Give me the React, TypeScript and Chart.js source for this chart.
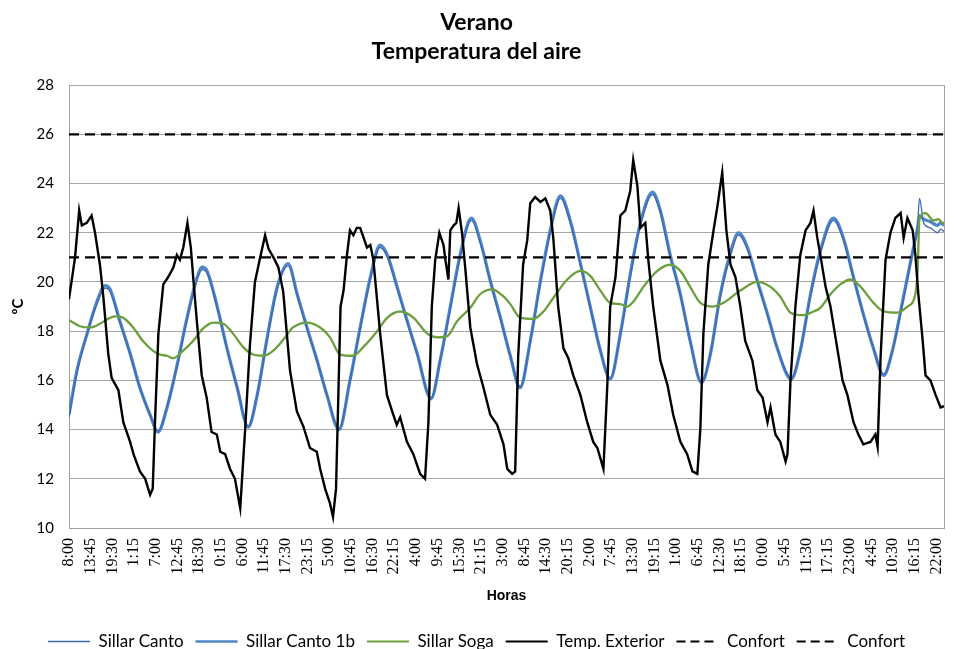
import { useEffect, useRef } from "react";
import { Chart, registerables } from "chart.js";
Chart.register(...registerables);

// hours elapsed since 8:00 of the first day
const exteriorHours = [
  0, 1.6, 2.7, 3.4, 4.7, 6.0, 6.9, 8.2, 9.1, 10.4,
  11.3, 13.1, 14.4, 16.2, 17.1, 18.8, 20.2, 21.5, 22.2, 22.8,
  23.7, 25.0, 26.3, 27.7, 28.6, 29.4, 30.3, 31.4, 32.3, 33.0,
  33.9, 35.2, 36.5, 37.8, 39.2, 40.1, 41.4, 42.7, 44.0, 45.4,
  46.7, 48.0, 49.3, 50.7, 52.0, 52.9, 54.2, 55.5, 56.8, 58.6,
  60.4, 62.2, 63.9, 65.7, 66.6, 67.9, 69.2, 70.0, 70.8, 72.0,
  72.8, 73.7, 74.5, 75.4, 76.3, 77.2, 78.1, 79.0, 79.9, 80.7,
  81.6, 82.5, 84.3, 86.0, 86.9, 87.8, 89.6, 91.3, 93.1, 94.4,
  95.3, 96.2, 97.1, 98.2, 99.3, 99.8, 100.6, 101.1, 102.0, 102.7,
  103.3, 104.2, 105.1, 106.4, 108.2, 109.9, 111.7, 113.5, 115.2, 116.2,
  117.5, 118.3, 119.1, 120.4, 121.5, 122.3, 123.6, 125.0, 126.3, 127.6,
  128.4, 129.7, 131.1, 132.4, 133.7, 135.6, 137.4, 139.0, 140.1, 141.7,
  142.7, 143.5, 144.9, 146.2, 147.5, 148.8, 149.6, 150.7, 151.5, 152.8,
  153.6, 154.9, 156.8, 158.7, 160.2, 162.1, 163.9, 165.3, 166.6, 167.4,
  168.2, 169.5, 170.9, 171.9, 173.2, 174.3, 175.4, 176.7, 178.0, 179.3,
  181.2, 182.5, 183.9, 185.2, 186.0, 187.3, 188.6, 190.0, 190.5, 191.3,
  192.6, 193.9, 195.3, 196.6, 197.4, 198.4, 199.2, 200.6, 201.9, 203.7,
  205.1, 206.4, 208.0, 209.3, 210.6, 212.5, 213.8, 214.4, 215.2, 216.5,
  217.8, 219.1, 220.5, 221.3, 222.3, 223.7, 224.4, 225.2, 226.3, 227.1,
  228.4, 229.8, 231.1, 232.0,
];
const exteriorTemp = [
  19.3, 21.0, 22.9, 22.3, 22.4, 22.7, 22.0, 20.7, 19.4, 17.1,
  16.1, 15.6, 14.3, 13.5, 13.0, 12.3, 12.0, 11.35, 11.6, 14.3,
  17.9, 19.9, 20.2, 20.6, 21.1, 20.9, 21.4, 22.4, 21.4, 20.05,
  18.4, 16.2, 15.3, 13.9, 13.8, 13.1, 13.0, 12.4, 12.0, 10.8,
  14.0, 17.5, 20.0, 21.0, 21.9, 21.35, 21.0, 20.6, 19.6, 16.4,
  14.75, 14.1, 13.25, 13.1, 12.4, 11.6, 11.0, 10.45, 11.6, 19.0,
  19.65, 21.1, 22.1, 21.9, 22.2, 22.2, 21.8, 21.4, 21.5, 20.9,
  19.4, 17.9, 15.4, 14.6, 14.2, 14.5, 13.5, 13.0, 12.2, 12.0,
  14.3, 19.0, 20.9, 22.0, 21.5, 20.9, 20.1, 22.1, 22.3, 22.4,
  23.0, 22.0, 20.5, 18.15, 16.65, 15.7, 14.6, 14.2, 13.4, 12.4,
  12.2, 12.3, 17.0, 20.7, 21.7, 23.2, 23.45, 23.25, 23.4, 22.9,
  21.8, 19.0, 17.3, 16.9, 16.2, 15.4, 14.3, 13.5, 13.25, 12.4,
  15.7, 19.0, 20.2, 22.7, 22.9, 23.7, 24.95, 23.9, 22.2, 22.4,
  20.9, 19.0, 16.8, 15.8, 14.6, 13.5, 13.0, 12.3, 12.2, 14.05,
  17.9, 20.7, 22.1, 23.05, 24.45, 22.1, 20.7, 20.2, 19.0, 17.6,
  16.8, 15.6, 15.3, 14.3, 14.9, 13.8, 13.5, 12.7, 13.0, 16.0,
  19.0, 21.1, 22.1, 22.4, 22.9, 21.8, 21.1, 19.8, 19.0, 17.3,
  16.0, 15.4, 14.3, 13.8, 13.4, 13.5, 13.8, 13.3, 17.0, 20.9,
  22.0, 22.6, 22.8, 21.8, 22.6, 22.1, 21.1, 19.5, 17.7, 16.2,
  16.0, 15.4, 14.9, 14.95,
];

const cantoHours = [
  0, 2.1, 4.8, 7.4, 9.6, 10.9, 13.5, 16.2, 18.8, 21.5,
  23.6, 26.0, 28.7, 31.3, 34.0, 35.3, 36.6, 39.3, 41.9, 44.6,
  47.5, 49.9, 52.5, 55.2, 58.1, 60.5, 63.1, 65.8, 68.4, 71.6,
  74.5, 77.2, 79.9, 82.5, 84.4, 87.0, 89.7, 92.3, 96.0, 98.4,
  101.1, 103.7, 106.7, 109.0, 111.7, 114.3, 117.0, 119.6, 122.3, 125.0,
  127.6, 130.3, 132.9, 135.6, 138.2, 140.9, 143.5, 146.2, 148.8, 151.5,
  154.7, 156.8, 159.4, 162.1, 164.7, 167.7, 170.1, 172.7, 175.4, 177.5,
  179.9, 182.5, 185.2, 187.8, 191.5, 193.9, 196.6, 199.2, 202.7, 205.3,
  208.0, 210.6, 213.3, 216.0, 218.3, 221.0, 223.7, 225.0, 225.5, 226.6,
  228.4, 230.3, 231.1, 232.0,
];
const canto1bTemp = [
  14.6, 16.4, 17.9, 19.2, 19.85, 19.7, 18.4, 17.1, 15.7, 14.6,
  13.9, 14.9, 16.65, 18.55, 20.2, 20.6, 20.45, 19.0, 17.3, 15.7,
  14.1, 15.4, 17.7, 19.8, 20.75, 19.5, 18.15, 16.8, 15.4, 14.0,
  16.0, 18.15, 20.2, 21.5, 21.1, 19.8, 18.4, 17.1, 15.25, 16.8,
  19.0, 21.1, 22.6, 21.7, 20.05, 18.6, 17.0, 15.7, 17.6, 20.05,
  22.1, 23.5, 22.5, 20.75, 19.0, 17.2, 16.05, 17.9, 20.3, 22.4,
  23.65, 22.9, 21.1, 19.5, 17.6, 15.9, 17.1, 19.5, 21.2, 22.0,
  21.4, 20.05, 18.7, 17.3, 16.05, 17.2, 19.5, 21.25, 22.6, 21.8,
  20.2, 18.7, 17.3, 16.2, 17.2, 19.2, 21.25, 22.2, 22.7, 22.55,
  22.45, 22.3, 22.4, 22.3,
];
const cantoTemp = [
  14.5, 16.3, 17.9, 19.1, 19.75, 19.6, 18.35, 17.05, 15.7, 14.6,
  13.95, 14.95, 16.6, 18.45, 20.1, 20.5, 20.35, 18.95, 17.25, 15.7,
  14.15, 15.45, 17.6, 19.7, 20.65, 19.45, 18.1, 16.8, 15.4, 14.05,
  16.0, 18.1, 20.1, 21.4, 21.0, 19.75, 18.35, 17.05, 15.3, 16.8,
  18.9, 21.0, 22.5, 21.6, 20.0, 18.55, 17.0, 15.75, 17.55, 19.95,
  22.0, 23.4, 22.4, 20.7, 18.95, 17.2, 16.1, 17.85, 20.2, 22.3,
  23.55, 22.8, 21.0, 19.45, 17.6, 15.95, 17.1, 19.4, 21.1, 21.9,
  21.3, 20.0, 18.65, 17.3, 16.1, 17.2, 19.4, 21.15, 22.5, 21.7,
  20.15, 18.65, 17.3, 16.25, 17.2, 19.1, 21.2, 22.3, 23.4, 22.4,
  22.2, 22.0, 22.15, 22.05,
];

const sogaHours = [
  0, 2.9, 5.6, 8.2, 10.3, 12.2, 14.3, 17.0, 19.6, 22.3,
  24.1, 26.0, 27.6, 30.2, 32.9, 35.5, 38.2, 40.9, 43.5, 46.2,
  48.8, 51.5, 54.1, 56.8, 59.4, 63.1, 66.6, 69.2, 71.9, 75.3,
  78.0, 81.7, 84.4, 87.8, 91.3, 95.0, 97.6, 100.3, 102.9, 106.4,
  109.0, 112.2, 114.9, 117.0, 119.6, 123.1, 125.8, 128.4, 132.1, 135.6,
  138.2, 140.9, 143.5, 146.2, 148.0, 149.6, 152.3, 156.0, 159.4, 162.1,
  164.7, 167.4, 170.9, 173.5, 178.0, 182.5, 186.0, 188.6, 191.3, 194.7,
  197.4, 199.2, 201.9, 204.5, 207.2, 209.9, 213.3, 216.0, 219.7, 222.3,
  224.4, 225.0, 225.5, 227.1, 229.2, 230.5, 231.6, 232.0,
];
const sogaTemp = [
  18.45, 18.2, 18.15, 18.3, 18.5, 18.6, 18.55, 18.15, 17.6, 17.2,
  17.05, 17.0, 16.9, 17.2, 17.6, 18.1, 18.35, 18.3, 17.9, 17.35,
  17.05, 17.0, 17.2, 17.65, 18.15, 18.35, 18.15, 17.75, 17.05, 17.0,
  17.35, 18.0, 18.55, 18.8, 18.55, 17.9, 17.75, 17.8, 18.4, 18.95,
  19.5, 19.7, 19.45, 19.1, 18.55, 18.5, 18.8, 19.35, 20.1, 20.45,
  20.25, 19.65, 19.15, 19.1, 19.0, 19.2, 19.8, 20.45, 20.7, 20.45,
  19.8, 19.15, 19.0, 19.15, 19.65, 20.0, 19.8, 19.4, 18.75, 18.65,
  18.8, 18.95, 19.5, 19.9, 20.1, 19.8, 19.15, 18.8, 18.75, 19.0,
  19.5, 20.45, 22.6, 22.8, 22.5, 22.55, 22.4, 22.4,
];

const confortLow = 21;
const confortHigh = 26;
const startHour = 8;
const tickStepHours = 5.75;
const endHours = 232;

const pts = (xs: number[], ys: number[]) => xs.map((x, i) => ({ x, y: ys[i] }));

export default function App() {
  const ref = useRef<HTMLCanvasElement>(null);
  useEffect(() => {
    if (!ref.current) return;
    const legendWidths = [1.6, 2.6, 2.2, 2.2, 2.2, 2.2];
    const chart = new Chart(ref.current, {
      type: "line",
      data: {
        datasets: [
          {
            label: "Sillar Canto",
            data: pts(cantoHours, cantoTemp),
            borderColor: "#3E6AB3",
            borderWidth: 1.3,
            cubicInterpolationMode: "monotone",
            order: 3,
          },
          {
            label: "Sillar Canto 1b",
            data: pts(cantoHours, canto1bTemp),
            borderColor: "#4F86C6",
            borderWidth: 3.2,
            cubicInterpolationMode: "monotone",
            order: 4,
          },
          {
            label: "Sillar Soga",
            data: pts(sogaHours, sogaTemp),
            borderColor: "#6A9F3C",
            borderWidth: 2.3,
            cubicInterpolationMode: "monotone",
            order: 2,
          },
          {
            label: "Temp. Exterior",
            data: pts(exteriorHours, exteriorTemp),
            borderColor: "#000000",
            borderWidth: 2.4,
            order: 1,
          },
          {
            label: "Confort",
            data: [
              { x: 0, y: confortLow },
              { x: endHours, y: confortLow },
            ],
            borderColor: "#000000",
            borderWidth: 2.2,
            borderDash: [10, 6],
            order: 0,
          },
          {
            label: "Confort",
            data: [
              { x: 0, y: confortHigh },
              { x: endHours, y: confortHigh },
            ],
            borderColor: "#000000",
            borderWidth: 2.2,
            borderDash: [10, 6],
            order: 0,
          },
        ],
      },
      options: {
        responsive: false,
        animation: false,
        devicePixelRatio: 1,
        elements: { point: { radius: 0 } },
        layout: { padding: { left: 9, right: 14, top: 0, bottom: -11 } },
        plugins: {
          tooltip: { enabled: false },
          title: {
            display: true,
            text: ["Verano", "Temperatura del aire"],
            color: "#000",
            font: { family: "Lato", size: 23, weight: "bold", lineHeight: 1.22 },
            padding: { top: 9, bottom: 20 },
          },
          legend: {
            position: "bottom",
            labels: {
              usePointStyle: true,
              pointStyle: "line",
              pointStyleWidth: 42,
              color: "#000",
              font: { family: "Lato", size: 17 },
              padding: 12,
              sort: (a: any, b: any) => a.datasetIndex - b.datasetIndex,
              generateLabels: (c: any) => {
                const items = (Chart.defaults as any).plugins.legend.labels.generateLabels(c);
                return items.map((it: any) => {
                  const ds = c.data.datasets[it.datasetIndex];
                  return {
                    ...it,
                    pointStyle: "line",
                    strokeStyle: ds.borderColor,
                    fillStyle: ds.borderColor,
                    lineWidth: legendWidths[it.datasetIndex],
                    lineDash: ds.borderDash ? [9, 5] : [],
                  };
                });
              },
            },
          },
        },
        scales: {
          x: {
            type: "linear",
            min: 0,
            max: endHours,
            afterFit: (s: any) => {
              s.height = 93;
              s.paddingLeft = 0;
              s.paddingRight = 0;
            },
            grid: { display: false, drawTicks: false },
            border: { color: "#A0A0A0", width: 1 },
            ticks: {
              stepSize: tickStepHours,
              includeBounds: false,
              autoSkip: false,
              minRotation: 90,
              maxRotation: 90,
              padding: 10,
              color: "#000",
              font: { family: "Liberation Serif", size: 16 },
              callback: (v: any) => {
                const m = (Math.round(Number(v) * 60) + startHour * 60) % 1440;
                const h = Math.floor(m / 60);
                const mm = m % 60;
                return `${h}:${mm < 10 ? "0" + mm : mm}`;
              },
            },
            title: {
              display: true,
              text: "Horas",
              color: "#000",
              font: { family: "Liberation Sans", size: 14, weight: "bold" },
              padding: { top: 11, bottom: 16 },
            },
          },
          y: {
            min: 10,
            max: 28,
            afterFit: (s: any) => {
              s.width = 60;
            },
            grid: { color: "#A6A6A6", drawTicks: false },
            border: { color: "#A0A0A0" },
            ticks: {
              stepSize: 2,
              color: "#000",
              padding: 15,
              font: { family: "Lato", size: 15 },
            },
            title: {
              display: true,
              text: "ºC",
              color: "#000",
              font: { family: "Lato", size: 15, weight: "bold" },
              padding: { top: 0, bottom: 0 },
            },
          },
          y2: {
            position: "right",
            min: 10,
            max: 28,
            afterFit: (s: any) => {
              s.width = 0;
            },
            grid: { display: false, drawTicks: false },
            border: { color: "#A0A0A0" },
            ticks: { display: false },
          },
        },
      },
    } as any);
    return () => chart.destroy();
  }, []);
  return (
    <div style={{ position: "fixed", left: 0, top: 0, width: 958, height: 649, background: "#fff" }}>
      <canvas ref={ref} width={958} height={649} style={{ width: 958, height: 649 }} />
    </div>
  );
}
